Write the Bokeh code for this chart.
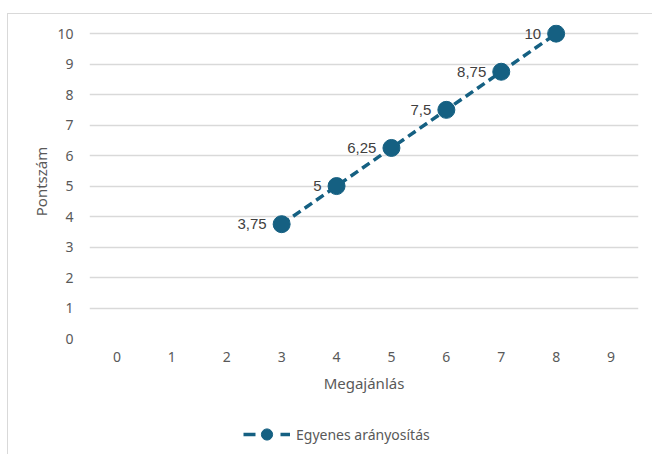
from bokeh.plotting import figure
from bokeh.layouts import column
from bokeh.models import (ColumnDataSource, LabelSet, Legend, LegendItem,
                          FixedTicker, Range1d)
from bokeh.core.properties import value
from bokeh.embed import file_html
from bokeh.resources import INLINE

# Data: offer (Megajánlás) vs. score (Pontszám)
offers = [3, 4, 5, 6, 7, 8]
scores = [3.75, 5, 6.25, 7.5, 8.75, 10]
score_labels = ["3,75", "5", "6,25", "7,5", "8,75", "10"]
x_ticks = [0, 1, 2, 3, 4, 5, 6, 7, 8, 9]
y_ticks = [0, 1, 2, 3, 4, 5, 6, 7, 8, 9, 10]
series_name = "Egyenes arányosítás"

SERIES_COLOR = "#156082"
TEXT_COLOR = "#595959"
GRID_COLOR = "#d9d9d9"
FONT = "Noto Sans"

source = ColumnDataSource(dict(x=offers, y=scores, label=score_labels))

# main chart
p = figure(width=644, height=386, output_backend="svg", toolbar_location=None,
           x_range=Range1d(-0.5, 9.5), y_range=Range1d(0, 10.3),
           min_border_left=81, min_border_right=14,
           min_border_top=10, min_border_bottom=62)
p.outline_line_color = None
p.background_fill_color = "white"
p.border_fill_color = "white"

p.line("x", "y", source=source, line_color=SERIES_COLOR, line_width=3.5,
       line_dash="9 5")
p.scatter("x", "y", source=source, size=17, fill_color=SERIES_COLOR,
          line_color=SERIES_COLOR)

labels = LabelSet(x="x", y="y", text="label", source=source, x_offset=-15,
                  y_offset=0, text_align="right", text_baseline="middle",
                  text_font_size="15px", text_color="#404040",
                  text_font=value("Liberation Sans"))
p.add_layout(labels)

p.xaxis.ticker = FixedTicker(ticks=x_ticks)
p.yaxis.ticker = FixedTicker(ticks=y_ticks)
for ax in (p.xaxis[0], p.yaxis[0]):
    ax.axis_line_color = None
    ax.major_tick_line_color = None
    ax.minor_tick_line_color = None
    ax.major_label_text_color = TEXT_COLOR
    ax.major_label_text_font = FONT
    ax.major_label_text_font_size = "14px"
    ax.axis_label_text_color = TEXT_COLOR
    ax.axis_label_text_font = FONT
    ax.axis_label_text_font_size = "15px"
    ax.axis_label_text_font_style = "normal"
p.xaxis.axis_label = "Megajánlás"
p.yaxis.axis_label = "Pontszám"
p.xaxis.major_label_standoff = 7
p.yaxis.major_label_standoff = 10
p.xaxis.axis_label_standoff = 8
p.yaxis.axis_label_standoff = 3

p.xgrid.grid_line_color = None
p.ygrid.grid_line_color = GRID_COLOR
p.ygrid.grid_line_width = 1.5

# legend strip under the chart: the series is drawn here outside the visible
# range, so only its legend sample shows
leg = figure(width=644, height=54, output_backend="svg", toolbar_location=None,
             x_range=Range1d(100, 101), y_range=Range1d(100, 101),
             min_border_left=0, min_border_right=0,
             min_border_top=0, min_border_bottom=0)
leg.axis.visible = False
leg.grid.visible = False
leg.outline_line_color = None
leg_line = leg.line("x", "y", source=source, line_color=SERIES_COLOR,
                    line_width=3.5, line_dash="12 25")
leg_dot = leg.scatter("x", "y", source=source, size=11,
                      fill_color=SERIES_COLOR, line_color=SERIES_COLOR)
legend = Legend(items=[LegendItem(label=series_name,
                                  renderers=[leg_line, leg_dot])],
                location=(154, 6), orientation="horizontal",
                glyph_width=47, glyph_height=28, label_standoff=6,
                padding=0, margin=0, border_line_color=None,
                background_fill_alpha=0,
                label_text_font=FONT, label_text_font_size="14px",
                label_text_color=TEXT_COLOR)
leg.add_layout(legend, "center")

page = column(p, leg, spacing=0,
              styles={"margin-left": "7px", "margin-top": "13px",
                      "border-left": "1.5px solid #d9d9d9",
                      "border-top": "1.5px solid #d9d9d9"})

open("out.html", "w").write(file_html(page, INLINE))
